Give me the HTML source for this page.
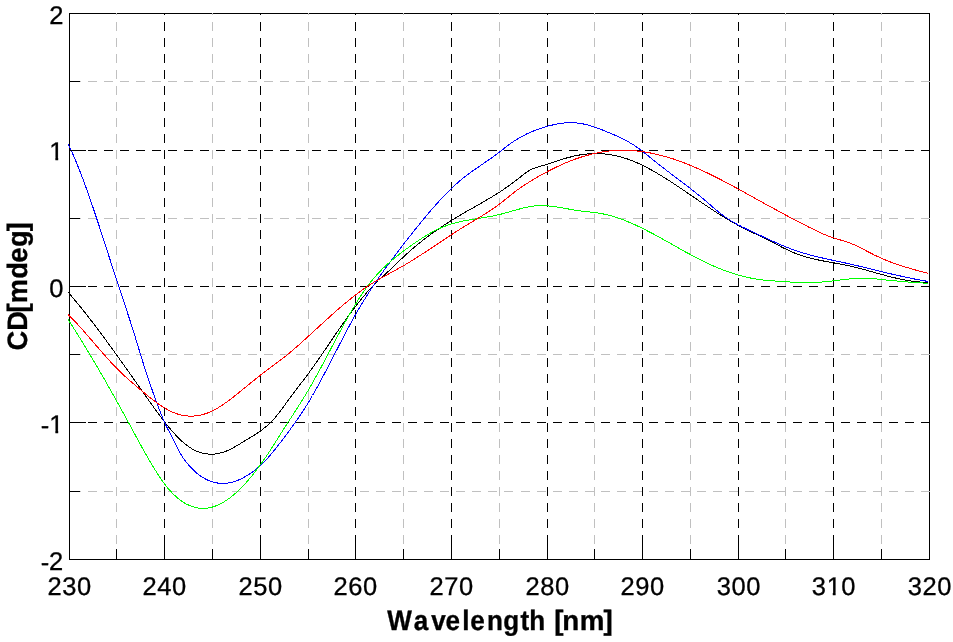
<!DOCTYPE html>
<html lang="en"><head><meta charset="utf-8"><title>CD spectrum</title>
<style>
html,body{margin:0;padding:0;background:#fff;}
body{width:953px;height:642px;overflow:hidden;}
svg{display:block;}
text{font-family:"Liberation Sans",Arial,sans-serif;fill:#000;}
.lb{font-weight:bold;stroke:#000;stroke-width:0.35px;stroke-linejoin:miter;}
.tk{stroke:#000;stroke-width:0.3px;}
text{text-rendering:geometricPrecision;}
</style></head><body>
<svg width="953" height="642" viewBox="0 0 953 642">
<rect x="0" y="0" width="953" height="642" fill="#fff"/>

<rect x="69.5" y="13.5" width="860.0" height="546.0" fill="none" stroke="#000" stroke-width="1" shape-rendering="crispEdges"/>
<g shape-rendering="crispEdges" stroke-width="1" fill="none">
<line x1="116.5" y1="5.665" x2="116.5" y2="559.5" stroke="#c0c0c0" stroke-dasharray="9 7.035" clip-path="url(#box)"/>
<line x1="212.5" y1="5.665" x2="212.5" y2="559.5" stroke="#c0c0c0" stroke-dasharray="9 7.035" clip-path="url(#box)"/>
<line x1="308.5" y1="5.665" x2="308.5" y2="559.5" stroke="#c0c0c0" stroke-dasharray="9 7.035" clip-path="url(#box)"/>
<line x1="403.5" y1="5.665" x2="403.5" y2="559.5" stroke="#c0c0c0" stroke-dasharray="9 7.035" clip-path="url(#box)"/>
<line x1="499.5" y1="5.665" x2="499.5" y2="559.5" stroke="#c0c0c0" stroke-dasharray="9 7.035" clip-path="url(#box)"/>
<line x1="594.5" y1="5.665" x2="594.5" y2="559.5" stroke="#c0c0c0" stroke-dasharray="9 7.035" clip-path="url(#box)"/>
<line x1="690.5" y1="5.665" x2="690.5" y2="559.5" stroke="#c0c0c0" stroke-dasharray="9 7.035" clip-path="url(#box)"/>
<line x1="785.5" y1="5.665" x2="785.5" y2="559.5" stroke="#c0c0c0" stroke-dasharray="9 7.035" clip-path="url(#box)"/>
<line x1="881.5" y1="5.665" x2="881.5" y2="559.5" stroke="#c0c0c0" stroke-dasharray="9 7.035" clip-path="url(#box)"/>
<line x1="55.640" y1="81.5" x2="929.5" y2="81.5" stroke="#c0c0c0" stroke-dasharray="9 7.030" clip-path="url(#box)"/>
<line x1="55.640" y1="218.5" x2="929.5" y2="218.5" stroke="#c0c0c0" stroke-dasharray="9 7.030" clip-path="url(#box)"/>
<line x1="55.640" y1="354.5" x2="929.5" y2="354.5" stroke="#c0c0c0" stroke-dasharray="9 7.030" clip-path="url(#box)"/>
<line x1="55.640" y1="491.5" x2="929.5" y2="491.5" stroke="#c0c0c0" stroke-dasharray="9 7.030" clip-path="url(#box)"/>
<line x1="164.5" y1="5.665" x2="164.5" y2="559.5" stroke="#000" stroke-dasharray="9 7.035" clip-path="url(#box)"/>
<line x1="260.5" y1="5.665" x2="260.5" y2="559.5" stroke="#000" stroke-dasharray="9 7.035" clip-path="url(#box)"/>
<line x1="355.5" y1="5.665" x2="355.5" y2="559.5" stroke="#000" stroke-dasharray="9 7.035" clip-path="url(#box)"/>
<line x1="451.5" y1="5.665" x2="451.5" y2="559.5" stroke="#000" stroke-dasharray="9 7.035" clip-path="url(#box)"/>
<line x1="547.5" y1="5.665" x2="547.5" y2="559.5" stroke="#000" stroke-dasharray="9 7.035" clip-path="url(#box)"/>
<line x1="642.5" y1="5.665" x2="642.5" y2="559.5" stroke="#000" stroke-dasharray="9 7.035" clip-path="url(#box)"/>
<line x1="738.5" y1="5.665" x2="738.5" y2="559.5" stroke="#000" stroke-dasharray="9 7.035" clip-path="url(#box)"/>
<line x1="833.5" y1="5.665" x2="833.5" y2="559.5" stroke="#000" stroke-dasharray="9 7.035" clip-path="url(#box)"/>
<line x1="55.640" y1="150.5" x2="929.5" y2="150.5" stroke="#000" stroke-dasharray="9 7.030" clip-path="url(#box)"/>
<line x1="55.640" y1="286.5" x2="929.5" y2="286.5" stroke="#000" stroke-dasharray="9 7.030" clip-path="url(#box)"/>
<line x1="55.640" y1="422.5" x2="929.5" y2="422.5" stroke="#000" stroke-dasharray="9 7.030" clip-path="url(#box)"/>
</g>
<defs><clipPath id="box"><rect x="69" y="13" width="861" height="547"/></clipPath></defs>
<g fill="none" stroke-width="1" stroke-linejoin="round" shape-rendering="crispEdges">
<path d="M68.0,292.0 L69.5,293.8 L71.0,295.5 L72.5,297.3 L74.0,299.1 L75.5,300.9 L77.0,302.7 L78.5,304.5 L80.0,306.4 L81.5,308.2 L83.0,310.1 L84.5,312.0 L86.0,313.9 L87.5,315.8 L89.0,317.8 L90.5,319.7 L92.0,321.6 L93.5,323.6 L95.0,325.6 L96.5,327.5 L98.0,329.5 L99.5,331.5 L101.0,333.5 L102.5,335.6 L104.0,337.6 L105.5,339.6 L107.0,341.7 L108.5,343.7 L110.0,345.8 L111.5,347.9 L113.0,349.9 L114.5,352.0 L116.0,354.1 L117.5,356.2 L119.0,358.3 L120.5,360.4 L122.0,362.5 L123.5,364.6 L125.0,366.7 L126.5,368.8 L128.0,370.9 L129.5,373.0 L131.0,375.2 L132.5,377.3 L134.0,379.4 L135.5,381.5 L137.0,383.7 L138.5,385.8 L140.0,387.9 L141.5,390.1 L143.0,392.2 L144.5,394.3 L146.0,396.5 L147.5,398.6 L149.0,400.7 L150.5,402.8 L152.0,404.9 L153.5,407.0 L155.0,409.1 L156.5,411.2 L158.0,413.2 L159.5,415.2 L161.0,417.2 L162.5,419.2 L164.0,421.2 L165.5,423.1 L167.0,425.0 L168.5,426.8 L170.0,428.6 L171.5,430.4 L173.0,432.1 L174.5,433.7 L176.0,435.4 L177.5,436.9 L179.0,438.4 L180.5,439.9 L182.0,441.3 L183.5,442.6 L185.0,443.8 L186.5,445.0 L188.0,446.1 L189.5,447.2 L191.0,448.2 L192.5,449.1 L194.0,449.9 L195.5,450.6 L197.0,451.3 L198.5,451.9 L200.0,452.4 L201.5,452.9 L203.0,453.3 L204.5,453.6 L206.0,453.8 L207.5,454.0 L209.0,454.1 L210.5,454.2 L212.0,454.2 L213.5,454.1 L215.0,454.0 L216.5,453.8 L218.0,453.5 L219.5,453.2 L221.0,452.8 L222.5,452.4 L224.0,451.9 L225.5,451.4 L227.0,450.8 L228.5,450.1 L230.0,449.4 L231.5,448.7 L233.0,447.9 L234.5,447.0 L236.0,446.2 L237.5,445.3 L239.0,444.4 L240.5,443.5 L242.0,442.5 L243.5,441.6 L245.0,440.7 L246.5,439.8 L248.0,438.9 L249.5,438.0 L251.0,437.1 L252.5,436.2 L254.0,435.3 L255.5,434.3 L257.0,433.3 L258.5,432.3 L260.0,431.3 L261.5,430.2 L263.0,429.0 L264.5,427.8 L266.0,426.6 L267.5,425.3 L269.0,423.9 L270.5,422.5 L272.0,421.0 L273.5,419.4 L275.0,417.7 L276.5,415.9 L278.0,414.1 L279.5,412.2 L281.0,410.2 L282.5,408.2 L284.0,406.1 L285.5,404.0 L287.0,401.9 L288.5,399.8 L290.0,397.8 L291.5,395.8 L293.0,393.8 L294.5,391.8 L296.0,389.9 L297.5,387.9 L299.0,385.9 L300.5,384.0 L302.0,382.0 L303.5,380.1 L305.0,378.1 L306.5,376.1 L308.0,374.1 L309.5,372.0 L311.0,370.0 L312.5,367.9 L314.0,365.8 L315.5,363.6 L317.0,361.5 L318.5,359.3 L320.0,357.2 L321.5,355.0 L323.0,352.8 L324.5,350.6 L326.0,348.4 L327.5,346.2 L329.0,343.9 L330.5,341.7 L332.0,339.5 L333.5,337.3 L335.0,335.1 L336.5,332.9 L338.0,330.8 L339.5,328.6 L341.0,326.4 L342.5,324.3 L344.0,322.1 L345.5,320.0 L347.0,317.9 L348.5,315.8 L350.0,313.8 L351.5,311.8 L353.0,309.7 L354.5,307.8 L356.0,305.8 L357.5,303.9 L359.0,302.0 L360.5,300.1 L362.0,298.2 L363.5,296.4 L365.0,294.7 L366.5,292.9 L368.0,291.2 L369.5,289.6 L371.0,287.9 L372.5,286.4 L374.0,284.8 L375.5,283.3 L377.0,281.9 L378.5,280.5 L380.0,279.0 L381.5,277.7 L383.0,276.3 L384.5,274.9 L386.0,273.5 L387.5,272.2 L389.0,270.8 L390.5,269.4 L392.0,268.0 L393.5,266.6 L395.0,265.1 L396.5,263.7 L398.0,262.2 L399.5,260.8 L401.0,259.3 L402.5,257.9 L404.0,256.5 L405.5,255.1 L407.0,253.7 L408.5,252.3 L410.0,251.0 L411.5,249.7 L413.0,248.4 L414.5,247.1 L416.0,245.9 L417.5,244.6 L419.0,243.4 L420.5,242.2 L422.0,241.0 L423.5,239.8 L425.0,238.7 L426.5,237.5 L428.0,236.4 L429.5,235.3 L431.0,234.2 L432.5,233.1 L434.0,232.1 L435.5,231.0 L437.0,230.0 L438.5,228.9 L440.0,227.9 L441.5,226.9 L443.0,225.9 L444.5,224.9 L446.0,224.0 L447.5,223.0 L449.0,222.1 L450.5,221.1 L452.0,220.2 L453.5,219.2 L455.0,218.3 L456.5,217.4 L458.0,216.5 L459.5,215.6 L461.0,214.7 L462.5,213.9 L464.0,213.0 L465.5,212.1 L467.0,211.2 L468.5,210.4 L470.0,209.5 L471.5,208.7 L473.0,207.8 L474.5,207.0 L476.0,206.1 L477.5,205.3 L479.0,204.4 L480.5,203.5 L482.0,202.7 L483.5,201.8 L485.0,200.9 L486.5,200.1 L488.0,199.2 L489.5,198.3 L491.0,197.4 L492.5,196.5 L494.0,195.6 L495.5,194.6 L497.0,193.7 L498.5,192.7 L500.0,191.8 L501.5,190.8 L503.0,189.8 L504.5,188.8 L506.0,187.7 L507.5,186.7 L509.0,185.6 L510.5,184.6 L512.0,183.5 L513.5,182.3 L515.0,181.2 L516.5,180.0 L518.0,178.8 L519.5,177.7 L521.0,176.5 L522.5,175.3 L524.0,174.2 L525.5,173.1 L527.0,172.1 L528.5,171.1 L530.0,170.2 L531.5,169.4 L533.0,168.7 L534.5,168.1 L536.0,167.6 L537.5,167.1 L539.0,166.7 L540.5,166.2 L542.0,165.8 L543.5,165.4 L545.0,165.0 L546.5,164.6 L548.0,164.1 L549.5,163.7 L551.0,163.1 L552.5,162.6 L554.0,162.1 L555.5,161.5 L557.0,161.0 L558.5,160.5 L560.0,160.0 L561.5,159.5 L563.0,159.1 L564.5,158.6 L566.0,158.2 L567.5,157.7 L569.0,157.3 L570.5,157.0 L572.0,156.6 L573.5,156.2 L575.0,155.9 L576.5,155.6 L578.0,155.3 L579.5,155.0 L581.0,154.8 L582.5,154.5 L584.0,154.3 L585.5,154.2 L587.0,154.0 L588.5,153.9 L590.0,153.8 L591.5,153.7 L593.0,153.6 L594.5,153.6 L596.0,153.6 L597.5,153.6 L599.0,153.6 L600.5,153.7 L602.0,153.8 L603.5,153.9 L605.0,154.0 L606.5,154.2 L608.0,154.4 L609.5,154.6 L611.0,154.8 L612.5,155.1 L614.0,155.4 L615.5,155.7 L617.0,156.0 L618.5,156.4 L620.0,156.8 L621.5,157.2 L623.0,157.6 L624.5,158.1 L626.0,158.5 L627.5,159.0 L629.0,159.6 L630.5,160.1 L632.0,160.7 L633.5,161.3 L635.0,161.9 L636.5,162.6 L638.0,163.2 L639.5,163.9 L641.0,164.6 L642.5,165.3 L644.0,166.1 L645.5,166.8 L647.0,167.6 L648.5,168.4 L650.0,169.2 L651.5,170.0 L653.0,170.9 L654.5,171.7 L656.0,172.6 L657.5,173.5 L659.0,174.4 L660.5,175.3 L662.0,176.2 L663.5,177.1 L665.0,178.1 L666.5,179.0 L668.0,180.0 L669.5,180.9 L671.0,181.9 L672.5,182.9 L674.0,183.9 L675.5,184.9 L677.0,185.8 L678.5,186.9 L680.0,187.9 L681.5,188.9 L683.0,189.9 L684.5,190.9 L686.0,191.9 L687.5,193.0 L689.0,194.0 L690.5,195.0 L692.0,196.0 L693.5,197.1 L695.0,198.1 L696.5,199.1 L698.0,200.1 L699.5,201.2 L701.0,202.2 L702.5,203.2 L704.0,204.2 L705.5,205.2 L707.0,206.2 L708.5,207.3 L710.0,208.2 L711.5,209.2 L713.0,210.2 L714.5,211.2 L716.0,212.2 L717.5,213.1 L719.0,214.1 L720.5,215.0 L722.0,216.0 L723.5,216.9 L725.0,217.8 L726.5,218.7 L728.0,219.6 L729.5,220.5 L731.0,221.4 L732.5,222.2 L734.0,223.1 L735.5,223.9 L737.0,224.7 L738.5,225.5 L740.0,226.3 L741.5,227.1 L743.0,227.9 L744.5,228.6 L746.0,229.4 L747.5,230.1 L749.0,230.8 L750.5,231.5 L752.0,232.2 L753.5,233.0 L755.0,233.7 L756.5,234.4 L758.0,235.1 L759.5,235.8 L761.0,236.5 L762.5,237.3 L764.0,238.0 L765.5,238.7 L767.0,239.5 L768.5,240.2 L770.0,241.0 L771.5,241.8 L773.0,242.6 L774.5,243.3 L776.0,244.1 L777.5,244.9 L779.0,245.7 L780.5,246.4 L782.0,247.2 L783.5,248.0 L785.0,248.7 L786.5,249.4 L788.0,250.1 L789.5,250.8 L791.0,251.5 L792.5,252.2 L794.0,252.8 L795.5,253.4 L797.0,254.0 L798.5,254.5 L800.0,255.1 L801.5,255.6 L803.0,256.1 L804.5,256.5 L806.0,257.0 L807.5,257.4 L809.0,257.8 L810.5,258.2 L812.0,258.6 L813.5,258.9 L815.0,259.3 L816.5,259.6 L818.0,259.9 L819.5,260.2 L821.0,260.5 L822.5,260.8 L824.0,261.1 L825.5,261.4 L827.0,261.7 L828.5,261.9 L830.0,262.2 L831.5,262.5 L833.0,262.7 L834.5,263.0 L836.0,263.3 L837.5,263.5 L839.0,263.8 L840.5,264.1 L842.0,264.4 L843.5,264.7 L845.0,265.0 L846.5,265.3 L848.0,265.6 L849.5,265.9 L851.0,266.2 L852.5,266.6 L854.0,267.0 L855.5,267.3 L857.0,267.7 L858.5,268.1 L860.0,268.5 L861.5,268.9 L863.0,269.3 L864.5,269.7 L866.0,270.1 L867.5,270.6 L869.0,271.0 L870.5,271.4 L872.0,271.8 L873.5,272.2 L875.0,272.7 L876.5,273.1 L878.0,273.5 L879.5,273.9 L881.0,274.3 L882.5,274.7 L884.0,275.1 L885.5,275.5 L887.0,275.9 L888.5,276.3 L890.0,276.7 L891.5,277.1 L893.0,277.4 L894.5,277.8 L896.0,278.1 L897.5,278.5 L899.0,278.8 L900.5,279.1 L902.0,279.4 L903.5,279.7 L905.0,280.0 L906.5,280.3 L908.0,280.5 L909.5,280.8 L911.0,281.0 L912.5,281.2 L914.0,281.4 L915.5,281.6 L917.0,281.7 L918.5,281.9 L920.0,282.0 L921.5,282.1 L923.0,282.2 L924.5,282.3 L926.0,282.3 L927.5,282.3 L928.0,282.3" stroke="#000000"/>
<path d="M68.0,143.8 L69.5,146.9 L71.0,150.1 L72.5,153.4 L74.0,156.8 L75.5,160.3 L77.0,163.9 L78.5,167.6 L80.0,171.4 L81.5,175.3 L83.0,179.3 L84.5,183.3 L86.0,187.4 L87.5,191.6 L89.0,195.9 L90.5,200.2 L92.0,204.6 L93.5,209.0 L95.0,213.4 L96.5,217.9 L98.0,222.5 L99.5,227.0 L101.0,231.6 L102.5,236.3 L104.0,240.9 L105.5,245.5 L107.0,250.2 L108.5,254.9 L110.0,259.5 L111.5,264.2 L113.0,268.8 L114.5,273.5 L116.0,278.1 L117.5,282.7 L119.0,287.2 L120.5,291.7 L122.0,296.3 L123.5,300.8 L125.0,305.3 L126.5,309.8 L128.0,314.4 L129.5,318.9 L131.0,323.6 L132.5,328.3 L134.0,333.0 L135.5,337.9 L137.0,342.8 L138.5,347.8 L140.0,352.8 L141.5,357.7 L143.0,362.5 L144.5,367.2 L146.0,371.8 L147.5,376.4 L149.0,380.9 L150.5,385.2 L152.0,389.5 L153.5,393.8 L155.0,397.9 L156.5,402.0 L158.0,406.0 L159.5,409.9 L161.0,413.8 L162.5,417.5 L164.0,421.1 L165.5,424.4 L167.0,427.5 L168.5,430.4 L170.0,433.3 L171.5,436.2 L173.0,439.2 L174.5,442.2 L176.0,445.2 L177.5,448.1 L179.0,451.0 L180.5,453.6 L182.0,456.1 L183.5,458.4 L185.0,460.5 L186.5,462.5 L188.0,464.3 L189.5,466.1 L191.0,467.7 L192.5,469.2 L194.0,470.7 L195.5,472.0 L197.0,473.3 L198.5,474.5 L200.0,475.6 L201.5,476.6 L203.0,477.6 L204.5,478.5 L206.0,479.3 L207.5,480.0 L209.0,480.6 L210.5,481.2 L212.0,481.7 L213.5,482.2 L215.0,482.5 L216.5,482.8 L218.0,483.1 L219.5,483.2 L221.0,483.3 L222.5,483.4 L224.0,483.3 L225.5,483.2 L227.0,483.1 L228.5,482.9 L230.0,482.6 L231.5,482.3 L233.0,481.9 L234.5,481.4 L236.0,480.9 L237.5,480.4 L239.0,479.8 L240.5,479.1 L242.0,478.4 L243.5,477.6 L245.0,476.8 L246.5,475.9 L248.0,475.0 L249.5,474.1 L251.0,473.0 L252.5,472.0 L254.0,470.8 L255.5,469.7 L257.0,468.4 L258.5,467.2 L260.0,465.8 L261.5,464.4 L263.0,463.0 L264.5,461.5 L266.0,459.9 L267.5,458.3 L269.0,456.6 L270.5,454.9 L272.0,453.1 L273.5,451.3 L275.0,449.5 L276.5,447.6 L278.0,445.6 L279.5,443.7 L281.0,441.7 L282.5,439.7 L284.0,437.7 L285.5,435.7 L287.0,433.7 L288.5,431.7 L290.0,429.7 L291.5,427.6 L293.0,425.5 L294.5,423.4 L296.0,421.3 L297.5,419.2 L299.0,417.0 L300.5,414.8 L302.0,412.5 L303.5,410.2 L305.0,407.9 L306.5,405.5 L308.0,403.1 L309.5,400.6 L311.0,398.0 L312.5,395.5 L314.0,392.8 L315.5,390.2 L317.0,387.5 L318.5,384.8 L320.0,382.0 L321.5,379.2 L323.0,376.4 L324.5,373.6 L326.0,370.7 L327.5,367.8 L329.0,364.9 L330.5,362.0 L332.0,359.1 L333.5,356.2 L335.0,353.3 L336.5,350.4 L338.0,347.5 L339.5,344.6 L341.0,341.7 L342.5,338.8 L344.0,335.9 L345.5,333.1 L347.0,330.2 L348.5,327.4 L350.0,324.6 L351.5,321.9 L353.0,319.2 L354.5,316.5 L356.0,313.8 L357.5,311.2 L359.0,308.6 L360.5,306.1 L362.0,303.6 L363.5,301.1 L365.0,298.7 L366.5,296.3 L368.0,293.9 L369.5,291.5 L371.0,289.2 L372.5,286.9 L374.0,284.7 L375.5,282.5 L377.0,280.3 L378.5,278.1 L380.0,275.9 L381.5,273.8 L383.0,271.7 L384.5,269.6 L386.0,267.5 L387.5,265.4 L389.0,263.4 L390.5,261.4 L392.0,259.3 L393.5,257.4 L395.0,255.4 L396.5,253.4 L398.0,251.4 L399.5,249.5 L401.0,247.5 L402.5,245.6 L404.0,243.6 L405.5,241.7 L407.0,239.8 L408.5,237.9 L410.0,236.0 L411.5,234.1 L413.0,232.2 L414.5,230.3 L416.0,228.4 L417.5,226.5 L419.0,224.7 L420.5,222.8 L422.0,221.0 L423.5,219.2 L425.0,217.4 L426.5,215.6 L428.0,213.8 L429.5,212.1 L431.0,210.3 L432.5,208.6 L434.0,206.9 L435.5,205.2 L437.0,203.5 L438.5,201.9 L440.0,200.2 L441.5,198.6 L443.0,197.0 L444.5,195.4 L446.0,193.9 L447.5,192.4 L449.0,190.9 L450.5,189.4 L452.0,188.0 L453.5,186.5 L455.0,185.1 L456.5,183.8 L458.0,182.4 L459.5,181.1 L461.0,179.9 L462.5,178.6 L464.0,177.4 L465.5,176.2 L467.0,175.1 L468.5,174.0 L470.0,172.9 L471.5,171.8 L473.0,170.7 L474.5,169.7 L476.0,168.6 L477.5,167.6 L479.0,166.6 L480.5,165.5 L482.0,164.5 L483.5,163.5 L485.0,162.4 L486.5,161.4 L488.0,160.4 L489.5,159.3 L491.0,158.3 L492.5,157.2 L494.0,156.1 L495.5,155.0 L497.0,153.9 L498.5,152.8 L500.0,151.6 L501.5,150.5 L503.0,149.3 L504.5,148.1 L506.0,146.9 L507.5,145.8 L509.0,144.7 L510.5,143.6 L512.0,142.5 L513.5,141.5 L515.0,140.5 L516.5,139.6 L518.0,138.7 L519.5,137.8 L521.0,136.9 L522.5,136.1 L524.0,135.3 L525.5,134.6 L527.0,133.8 L528.5,133.1 L530.0,132.4 L531.5,131.8 L533.0,131.2 L534.5,130.6 L536.0,130.0 L537.5,129.4 L539.0,128.9 L540.5,128.4 L542.0,127.9 L543.5,127.4 L545.0,126.9 L546.5,126.5 L548.0,126.1 L549.5,125.7 L551.0,125.3 L552.5,125.0 L554.0,124.6 L555.5,124.3 L557.0,124.0 L558.5,123.8 L560.0,123.5 L561.5,123.3 L563.0,123.2 L564.5,123.0 L566.0,122.9 L567.5,122.8 L569.0,122.7 L570.5,122.7 L572.0,122.7 L573.5,122.8 L575.0,122.8 L576.5,123.0 L578.0,123.1 L579.5,123.3 L581.0,123.5 L582.5,123.8 L584.0,124.1 L585.5,124.5 L587.0,124.8 L588.5,125.2 L590.0,125.6 L591.5,126.1 L593.0,126.6 L594.5,127.1 L596.0,127.6 L597.5,128.1 L599.0,128.7 L600.5,129.2 L602.0,129.8 L603.5,130.4 L605.0,131.0 L606.5,131.6 L608.0,132.3 L609.5,132.9 L611.0,133.5 L612.5,134.2 L614.0,134.8 L615.5,135.5 L617.0,136.1 L618.5,136.8 L620.0,137.5 L621.5,138.2 L623.0,139.0 L624.5,139.7 L626.0,140.5 L627.5,141.3 L629.0,142.2 L630.5,143.1 L632.0,144.0 L633.5,144.9 L635.0,145.9 L636.5,146.9 L638.0,148.0 L639.5,149.1 L641.0,150.2 L642.5,151.4 L644.0,152.5 L645.5,153.7 L647.0,154.9 L648.5,156.1 L650.0,157.3 L651.5,158.6 L653.0,159.8 L654.5,161.0 L656.0,162.2 L657.5,163.4 L659.0,164.6 L660.5,165.7 L662.0,166.9 L663.5,168.1 L665.0,169.2 L666.5,170.4 L668.0,171.5 L669.5,172.6 L671.0,173.8 L672.5,174.9 L674.0,176.0 L675.5,177.2 L677.0,178.3 L678.5,179.4 L680.0,180.6 L681.5,181.7 L683.0,182.8 L684.5,184.0 L686.0,185.1 L687.5,186.3 L689.0,187.4 L690.5,188.6 L692.0,189.8 L693.5,191.0 L695.0,192.1 L696.5,193.4 L698.0,194.6 L699.5,195.8 L701.0,197.0 L702.5,198.3 L704.0,199.5 L705.5,200.8 L707.0,202.1 L708.5,203.4 L710.0,204.7 L711.5,206.0 L713.0,207.3 L714.5,208.5 L716.0,209.8 L717.5,211.0 L719.0,212.3 L720.5,213.5 L722.0,214.6 L723.5,215.8 L725.0,216.9 L726.5,217.9 L728.0,218.9 L729.5,219.9 L731.0,220.9 L732.5,221.8 L734.0,222.6 L735.5,223.5 L737.0,224.3 L738.5,225.1 L740.0,225.8 L741.5,226.6 L743.0,227.3 L744.5,228.0 L746.0,228.8 L747.5,229.5 L749.0,230.2 L750.5,230.9 L752.0,231.6 L753.5,232.3 L755.0,233.0 L756.5,233.7 L758.0,234.4 L759.5,235.1 L761.0,235.8 L762.5,236.5 L764.0,237.2 L765.5,237.9 L767.0,238.6 L768.5,239.3 L770.0,240.0 L771.5,240.7 L773.0,241.3 L774.5,242.0 L776.0,242.7 L777.5,243.3 L779.0,244.0 L780.5,244.6 L782.0,245.3 L783.5,245.9 L785.0,246.5 L786.5,247.1 L788.0,247.7 L789.5,248.3 L791.0,248.9 L792.5,249.4 L794.0,250.0 L795.5,250.5 L797.0,251.0 L798.5,251.5 L800.0,252.0 L801.5,252.5 L803.0,252.9 L804.5,253.4 L806.0,253.8 L807.5,254.2 L809.0,254.7 L810.5,255.1 L812.0,255.5 L813.5,255.8 L815.0,256.2 L816.5,256.6 L818.0,257.0 L819.5,257.3 L821.0,257.7 L822.5,258.0 L824.0,258.4 L825.5,258.7 L827.0,259.0 L828.5,259.4 L830.0,259.7 L831.5,260.0 L833.0,260.3 L834.5,260.7 L836.0,261.0 L837.5,261.3 L839.0,261.6 L840.5,261.9 L842.0,262.3 L843.5,262.6 L845.0,262.9 L846.5,263.2 L848.0,263.6 L849.5,263.9 L851.0,264.3 L852.5,264.6 L854.0,264.9 L855.5,265.3 L857.0,265.7 L858.5,266.0 L860.0,266.4 L861.5,266.7 L863.0,267.1 L864.5,267.5 L866.0,267.8 L867.5,268.2 L869.0,268.6 L870.5,268.9 L872.0,269.3 L873.5,269.7 L875.0,270.0 L876.5,270.4 L878.0,270.8 L879.5,271.1 L881.0,271.5 L882.5,271.9 L884.0,272.2 L885.5,272.6 L887.0,272.9 L888.5,273.3 L890.0,273.6 L891.5,274.0 L893.0,274.3 L894.5,274.7 L896.0,275.0 L897.5,275.4 L899.0,275.7 L900.5,276.0 L902.0,276.4 L903.5,276.7 L905.0,277.0 L906.5,277.3 L908.0,277.6 L909.5,277.9 L911.0,278.3 L912.5,278.6 L914.0,278.9 L915.5,279.2 L917.0,279.5 L918.5,279.7 L920.0,280.0 L921.5,280.3 L923.0,280.6 L924.5,280.8 L926.0,281.1 L927.5,281.4 L928.0,281.5" stroke="#0000ff"/>
<path d="M68.0,319.3 L69.5,321.6 L71.0,324.0 L72.5,326.3 L74.0,328.7 L75.5,331.1 L77.0,333.5 L78.5,335.9 L80.0,338.3 L81.5,340.7 L83.0,343.2 L84.5,345.6 L86.0,348.1 L87.5,350.6 L89.0,353.0 L90.5,355.6 L92.0,358.1 L93.5,360.6 L95.0,363.1 L96.5,365.7 L98.0,368.3 L99.5,370.8 L101.0,373.4 L102.5,376.0 L104.0,378.6 L105.5,381.2 L107.0,383.9 L108.5,386.5 L110.0,389.2 L111.5,391.8 L113.0,394.5 L114.5,397.2 L116.0,399.8 L117.5,402.5 L119.0,405.2 L120.5,408.0 L122.0,410.7 L123.5,413.4 L125.0,416.2 L126.5,418.9 L128.0,421.7 L129.5,424.4 L131.0,427.2 L132.5,430.0 L134.0,432.7 L135.5,435.5 L137.0,438.3 L138.5,441.0 L140.0,443.8 L141.5,446.5 L143.0,449.2 L144.5,451.9 L146.0,454.5 L147.5,457.1 L149.0,459.7 L150.5,462.3 L152.0,464.8 L153.5,467.3 L155.0,469.7 L156.5,472.1 L158.0,474.5 L159.5,476.7 L161.0,479.0 L162.5,481.1 L164.0,483.2 L165.5,485.2 L167.0,487.1 L168.5,488.9 L170.0,490.6 L171.5,492.2 L173.0,493.8 L174.5,495.2 L176.0,496.6 L177.5,497.9 L179.0,499.1 L180.5,500.3 L182.0,501.4 L183.5,502.3 L185.0,503.3 L186.5,504.1 L188.0,504.8 L189.5,505.5 L191.0,506.1 L192.5,506.7 L194.0,507.1 L195.5,507.5 L197.0,507.8 L198.5,508.1 L200.0,508.3 L201.5,508.4 L203.0,508.4 L204.5,508.4 L206.0,508.3 L207.5,508.1 L209.0,507.8 L210.5,507.5 L212.0,507.2 L213.5,506.7 L215.0,506.2 L216.5,505.6 L218.0,505.0 L219.5,504.3 L221.0,503.6 L222.5,502.7 L224.0,501.9 L225.5,500.9 L227.0,499.9 L228.5,498.9 L230.0,497.8 L231.5,496.6 L233.0,495.4 L234.5,494.1 L236.0,492.8 L237.5,491.4 L239.0,490.0 L240.5,488.5 L242.0,487.0 L243.5,485.4 L245.0,483.8 L246.5,482.2 L248.0,480.4 L249.5,478.7 L251.0,476.9 L252.5,475.1 L254.0,473.2 L255.5,471.3 L257.0,469.3 L258.5,467.3 L260.0,465.3 L261.5,463.2 L263.0,461.1 L264.5,458.9 L266.0,456.7 L267.5,454.5 L269.0,452.2 L270.5,449.9 L272.0,447.6 L273.5,445.2 L275.0,442.9 L276.5,440.5 L278.0,438.1 L279.5,435.7 L281.0,433.3 L282.5,430.9 L284.0,428.6 L285.5,426.2 L287.0,423.9 L288.5,421.6 L290.0,419.3 L291.5,417.0 L293.0,414.7 L294.5,412.4 L296.0,410.0 L297.5,407.7 L299.0,405.4 L300.5,403.0 L302.0,400.6 L303.5,398.2 L305.0,395.7 L306.5,393.2 L308.0,390.7 L309.5,388.1 L311.0,385.5 L312.5,382.9 L314.0,380.2 L315.5,377.5 L317.0,374.8 L318.5,372.0 L320.0,369.3 L321.5,366.5 L323.0,363.7 L324.5,360.8 L326.0,358.0 L327.5,355.2 L329.0,352.3 L330.5,349.5 L332.0,346.6 L333.5,343.8 L335.0,340.9 L336.5,338.1 L338.0,335.3 L339.5,332.5 L341.0,329.7 L342.5,327.0 L344.0,324.2 L345.5,321.5 L347.0,318.8 L348.5,316.2 L350.0,313.5 L351.5,311.0 L353.0,308.4 L354.5,305.9 L356.0,303.4 L357.5,301.0 L359.0,298.6 L360.5,296.3 L362.0,294.0 L363.5,291.8 L365.0,289.7 L366.5,287.6 L368.0,285.5 L369.5,283.6 L371.0,281.7 L372.5,279.8 L374.0,278.0 L375.5,276.3 L377.0,274.6 L378.5,273.0 L380.0,271.4 L381.5,269.8 L383.0,268.3 L384.5,266.9 L386.0,265.5 L387.5,264.1 L389.0,262.8 L390.5,261.4 L392.0,260.2 L393.5,258.9 L395.0,257.7 L396.5,256.5 L398.0,255.3 L399.5,254.1 L401.0,253.0 L402.5,251.8 L404.0,250.7 L405.5,249.6 L407.0,248.5 L408.5,247.4 L410.0,246.4 L411.5,245.3 L413.0,244.2 L414.5,243.2 L416.0,242.2 L417.5,241.2 L419.0,240.2 L420.5,239.2 L422.0,238.2 L423.5,237.2 L425.0,236.3 L426.5,235.4 L428.0,234.5 L429.5,233.6 L431.0,232.8 L432.5,231.9 L434.0,231.1 L435.5,230.4 L437.0,229.6 L438.5,228.9 L440.0,228.2 L441.5,227.6 L443.0,226.9 L444.5,226.4 L446.0,225.8 L447.5,225.3 L449.0,224.8 L450.5,224.3 L452.0,223.8 L453.5,223.4 L455.0,223.0 L456.5,222.6 L458.0,222.2 L459.5,221.9 L461.0,221.6 L462.5,221.2 L464.0,220.9 L465.5,220.6 L467.0,220.4 L468.5,220.1 L470.0,219.8 L471.5,219.6 L473.0,219.3 L474.5,219.1 L476.0,218.8 L477.5,218.6 L479.0,218.4 L480.5,218.1 L482.0,217.9 L483.5,217.6 L485.0,217.4 L486.5,217.1 L488.0,216.9 L489.5,216.6 L491.0,216.3 L492.5,216.1 L494.0,215.8 L495.5,215.4 L497.0,215.1 L498.5,214.8 L500.0,214.4 L501.5,214.0 L503.0,213.7 L504.5,213.3 L506.0,212.8 L507.5,212.4 L509.0,212.0 L510.5,211.6 L512.0,211.1 L513.5,210.7 L515.0,210.3 L516.5,209.8 L518.0,209.4 L519.5,209.0 L521.0,208.6 L522.5,208.2 L524.0,207.9 L525.5,207.5 L527.0,207.2 L528.5,206.9 L530.0,206.6 L531.5,206.4 L533.0,206.2 L534.5,206.0 L536.0,205.9 L537.5,205.8 L539.0,205.7 L540.5,205.6 L542.0,205.6 L543.5,205.7 L545.0,205.7 L546.5,205.8 L548.0,205.9 L549.5,206.1 L551.0,206.2 L552.5,206.4 L554.0,206.6 L555.5,206.8 L557.0,207.0 L558.5,207.2 L560.0,207.5 L561.5,207.7 L563.0,208.0 L564.5,208.3 L566.0,208.5 L567.5,208.8 L569.0,209.1 L570.5,209.3 L572.0,209.6 L573.5,209.9 L575.0,210.1 L576.5,210.3 L578.0,210.6 L579.5,210.8 L581.0,211.0 L582.5,211.1 L584.0,211.3 L585.5,211.5 L587.0,211.7 L588.5,211.8 L590.0,212.0 L591.5,212.2 L593.0,212.3 L594.5,212.5 L596.0,212.7 L597.5,212.9 L599.0,213.2 L600.5,213.4 L602.0,213.7 L603.5,214.0 L605.0,214.3 L606.5,214.6 L608.0,215.0 L609.5,215.4 L611.0,215.8 L612.5,216.2 L614.0,216.7 L615.5,217.1 L617.0,217.6 L618.5,218.1 L620.0,218.6 L621.5,219.2 L623.0,219.8 L624.5,220.3 L626.0,220.9 L627.5,221.5 L629.0,222.2 L630.5,222.8 L632.0,223.5 L633.5,224.1 L635.0,224.8 L636.5,225.5 L638.0,226.2 L639.5,226.9 L641.0,227.7 L642.5,228.4 L644.0,229.1 L645.5,229.9 L647.0,230.7 L648.5,231.5 L650.0,232.2 L651.5,233.0 L653.0,233.8 L654.5,234.6 L656.0,235.5 L657.5,236.3 L659.0,237.1 L660.5,237.9 L662.0,238.7 L663.5,239.6 L665.0,240.4 L666.5,241.3 L668.0,242.1 L669.5,242.9 L671.0,243.8 L672.5,244.6 L674.0,245.5 L675.5,246.3 L677.0,247.2 L678.5,248.0 L680.0,248.9 L681.5,249.7 L683.0,250.5 L684.5,251.4 L686.0,252.2 L687.5,253.0 L689.0,253.8 L690.5,254.6 L692.0,255.4 L693.5,256.2 L695.0,257.0 L696.5,257.8 L698.0,258.6 L699.5,259.3 L701.0,260.1 L702.5,260.8 L704.0,261.6 L705.5,262.3 L707.0,263.0 L708.5,263.7 L710.0,264.4 L711.5,265.1 L713.0,265.8 L714.5,266.4 L716.0,267.1 L717.5,267.7 L719.0,268.3 L720.5,268.9 L722.0,269.5 L723.5,270.1 L725.0,270.6 L726.5,271.2 L728.0,271.7 L729.5,272.2 L731.0,272.8 L732.5,273.2 L734.0,273.7 L735.5,274.2 L737.0,274.6 L738.5,275.1 L740.0,275.5 L741.5,275.9 L743.0,276.3 L744.5,276.7 L746.0,277.0 L747.5,277.4 L749.0,277.7 L750.5,278.0 L752.0,278.3 L753.5,278.6 L755.0,278.9 L756.5,279.1 L758.0,279.4 L759.5,279.6 L761.0,279.8 L762.5,280.0 L764.0,280.2 L765.5,280.3 L767.0,280.4 L768.5,280.6 L770.0,280.7 L771.5,280.8 L773.0,280.9 L774.5,281.0 L776.0,281.0 L777.5,281.1 L779.0,281.2 L780.5,281.3 L782.0,281.4 L783.5,281.5 L785.0,281.7 L786.5,281.8 L788.0,281.9 L789.5,282.0 L791.0,282.2 L792.5,282.3 L794.0,282.4 L795.5,282.5 L797.0,282.6 L798.5,282.7 L800.0,282.7 L801.5,282.8 L803.0,282.9 L804.5,282.9 L806.0,282.9 L807.5,282.9 L809.0,282.9 L810.5,282.8 L812.0,282.8 L813.5,282.7 L815.0,282.6 L816.5,282.5 L818.0,282.4 L819.5,282.3 L821.0,282.2 L822.5,282.0 L824.0,281.9 L825.5,281.7 L827.0,281.6 L828.5,281.4 L830.0,281.2 L831.5,281.1 L833.0,280.9 L834.5,280.7 L836.0,280.5 L837.5,280.3 L839.0,280.2 L840.5,280.0 L842.0,279.8 L843.5,279.6 L845.0,279.5 L846.5,279.3 L848.0,279.2 L849.5,279.0 L851.0,278.9 L852.5,278.8 L854.0,278.7 L855.5,278.6 L857.0,278.5 L858.5,278.4 L860.0,278.4 L861.5,278.3 L863.0,278.3 L864.5,278.3 L866.0,278.4 L867.5,278.4 L869.0,278.5 L870.5,278.6 L872.0,278.7 L873.5,278.8 L875.0,278.9 L876.5,279.0 L878.0,279.2 L879.5,279.3 L881.0,279.5 L882.5,279.6 L884.0,279.8 L885.5,279.9 L887.0,280.1 L888.5,280.2 L890.0,280.3 L891.5,280.5 L893.0,280.6 L894.5,280.8 L896.0,280.9 L897.5,281.1 L899.0,281.2 L900.5,281.4 L902.0,281.5 L903.5,281.6 L905.0,281.7 L906.5,281.9 L908.0,282.0 L909.5,282.1 L911.0,282.2 L912.5,282.3 L914.0,282.4 L915.5,282.5 L917.0,282.6 L918.5,282.7 L920.0,282.8 L921.5,282.9 L923.0,283.0 L924.5,283.0 L926.0,283.1 L927.5,283.1 L928.0,283.1" stroke="#00ff00"/>
<path d="M68.0,314.6 L69.5,316.0 L71.0,317.5 L72.5,319.0 L74.0,320.5 L75.5,322.1 L77.0,323.7 L78.5,325.3 L80.0,326.9 L81.5,328.6 L83.0,330.3 L84.5,332.0 L86.0,333.7 L87.5,335.4 L89.0,337.1 L90.5,338.9 L92.0,340.6 L93.5,342.4 L95.0,344.1 L96.5,345.9 L98.0,347.6 L99.5,349.4 L101.0,351.1 L102.5,352.8 L104.0,354.5 L105.5,356.2 L107.0,357.9 L108.5,359.6 L110.0,361.2 L111.5,362.9 L113.0,364.5 L114.5,366.0 L116.0,367.6 L117.5,369.1 L119.0,370.6 L120.5,372.0 L122.0,373.5 L123.5,374.9 L125.0,376.3 L126.5,377.6 L128.0,379.0 L129.5,380.3 L131.0,381.6 L132.5,382.9 L134.0,384.2 L135.5,385.5 L137.0,386.8 L138.5,388.0 L140.0,389.3 L141.5,390.6 L143.0,391.8 L144.5,393.1 L146.0,394.3 L147.5,395.6 L149.0,396.8 L150.5,398.0 L152.0,399.1 L153.5,400.3 L155.0,401.4 L156.5,402.5 L158.0,403.6 L159.5,404.7 L161.0,405.7 L162.5,406.6 L164.0,407.6 L165.5,408.5 L167.0,409.3 L168.5,410.2 L170.0,410.9 L171.5,411.6 L173.0,412.3 L174.5,412.9 L176.0,413.5 L177.5,414.0 L179.0,414.4 L180.5,414.8 L182.0,415.2 L183.5,415.5 L185.0,415.7 L186.5,415.9 L188.0,416.0 L189.5,416.1 L191.0,416.1 L192.5,416.1 L194.0,416.0 L195.5,415.9 L197.0,415.7 L198.5,415.5 L200.0,415.2 L201.5,414.8 L203.0,414.4 L204.5,414.0 L206.0,413.5 L207.5,413.0 L209.0,412.4 L210.5,411.8 L212.0,411.1 L213.5,410.3 L215.0,409.5 L216.5,408.7 L218.0,407.8 L219.5,406.9 L221.0,405.9 L222.5,405.0 L224.0,403.9 L225.5,402.9 L227.0,401.8 L228.5,400.7 L230.0,399.6 L231.5,398.4 L233.0,397.3 L234.5,396.1 L236.0,394.9 L237.5,393.7 L239.0,392.5 L240.5,391.3 L242.0,390.0 L243.5,388.8 L245.0,387.6 L246.5,386.4 L248.0,385.1 L249.5,383.9 L251.0,382.7 L252.5,381.5 L254.0,380.3 L255.5,379.1 L257.0,377.9 L258.5,376.7 L260.0,375.5 L261.5,374.3 L263.0,373.2 L264.5,372.1 L266.0,370.9 L267.5,369.8 L269.0,368.7 L270.5,367.5 L272.0,366.4 L273.5,365.3 L275.0,364.2 L276.5,363.1 L278.0,361.9 L279.5,360.8 L281.0,359.7 L282.5,358.5 L284.0,357.3 L285.5,356.2 L287.0,355.0 L288.5,353.7 L290.0,352.5 L291.5,351.3 L293.0,350.0 L294.5,348.7 L296.0,347.4 L297.5,346.1 L299.0,344.8 L300.5,343.4 L302.0,342.1 L303.5,340.7 L305.0,339.4 L306.5,338.0 L308.0,336.6 L309.5,335.2 L311.0,333.9 L312.5,332.5 L314.0,331.1 L315.5,329.7 L317.0,328.4 L318.5,327.0 L320.0,325.6 L321.5,324.2 L323.0,322.9 L324.5,321.5 L326.0,320.1 L327.5,318.8 L329.0,317.4 L330.5,316.1 L332.0,314.7 L333.5,313.4 L335.0,312.0 L336.5,310.7 L338.0,309.4 L339.5,308.1 L341.0,306.8 L342.5,305.5 L344.0,304.3 L345.5,303.0 L347.0,301.8 L348.5,300.5 L350.0,299.3 L351.5,298.1 L353.0,296.9 L354.5,295.8 L356.0,294.6 L357.5,293.5 L359.0,292.3 L360.5,291.2 L362.0,290.2 L363.5,289.1 L365.0,288.1 L366.5,287.0 L368.0,286.0 L369.5,285.1 L371.0,284.1 L372.5,283.2 L374.0,282.2 L375.5,281.3 L377.0,280.4 L378.5,279.6 L380.0,278.7 L381.5,277.9 L383.0,277.0 L384.5,276.2 L386.0,275.4 L387.5,274.5 L389.0,273.7 L390.5,272.9 L392.0,272.1 L393.5,271.3 L395.0,270.4 L396.5,269.6 L398.0,268.8 L399.5,267.9 L401.0,267.1 L402.5,266.2 L404.0,265.4 L405.5,264.5 L407.0,263.6 L408.5,262.7 L410.0,261.8 L411.5,260.9 L413.0,260.0 L414.5,259.0 L416.0,258.1 L417.5,257.1 L419.0,256.2 L420.5,255.2 L422.0,254.2 L423.5,253.3 L425.0,252.3 L426.5,251.3 L428.0,250.3 L429.5,249.3 L431.0,248.3 L432.5,247.3 L434.0,246.3 L435.5,245.3 L437.0,244.3 L438.5,243.3 L440.0,242.3 L441.5,241.3 L443.0,240.3 L444.5,239.3 L446.0,238.3 L447.5,237.3 L449.0,236.3 L450.5,235.3 L452.0,234.3 L453.5,233.4 L455.0,232.4 L456.5,231.4 L458.0,230.5 L459.5,229.5 L461.0,228.6 L462.5,227.6 L464.0,226.7 L465.5,225.8 L467.0,224.9 L468.5,224.0 L470.0,223.1 L471.5,222.2 L473.0,221.3 L474.5,220.4 L476.0,219.5 L477.5,218.6 L479.0,217.6 L480.5,216.7 L482.0,215.8 L483.5,214.9 L485.0,213.9 L486.5,213.0 L488.0,212.0 L489.5,211.0 L491.0,210.0 L492.5,209.0 L494.0,208.0 L495.5,206.9 L497.0,205.8 L498.5,204.7 L500.0,203.6 L501.5,202.4 L503.0,201.3 L504.5,200.1 L506.0,198.9 L507.5,197.7 L509.0,196.5 L510.5,195.3 L512.0,194.1 L513.5,192.9 L515.0,191.7 L516.5,190.6 L518.0,189.5 L519.5,188.4 L521.0,187.4 L522.5,186.4 L524.0,185.4 L525.5,184.4 L527.0,183.4 L528.5,182.5 L530.0,181.5 L531.5,180.6 L533.0,179.7 L534.5,178.8 L536.0,177.9 L537.5,177.1 L539.0,176.2 L540.5,175.3 L542.0,174.5 L543.5,173.7 L545.0,172.9 L546.5,172.1 L548.0,171.3 L549.5,170.5 L551.0,169.7 L552.5,169.0 L554.0,168.2 L555.5,167.5 L557.0,166.8 L558.5,166.1 L560.0,165.4 L561.5,164.7 L563.0,164.0 L564.5,163.4 L566.0,162.7 L567.5,162.1 L569.0,161.5 L570.5,160.9 L572.0,160.3 L573.5,159.8 L575.0,159.2 L576.5,158.7 L578.0,158.2 L579.5,157.7 L581.0,157.2 L582.5,156.7 L584.0,156.2 L585.5,155.8 L587.0,155.4 L588.5,155.0 L590.0,154.6 L591.5,154.2 L593.0,153.8 L594.5,153.5 L596.0,153.2 L597.5,152.9 L599.0,152.6 L600.5,152.3 L602.0,152.0 L603.5,151.8 L605.0,151.6 L606.5,151.4 L608.0,151.2 L609.5,151.0 L611.0,150.8 L612.5,150.7 L614.0,150.6 L615.5,150.5 L617.0,150.4 L618.5,150.4 L620.0,150.3 L621.5,150.3 L623.0,150.3 L624.5,150.3 L626.0,150.3 L627.5,150.4 L629.0,150.4 L630.5,150.5 L632.0,150.6 L633.5,150.7 L635.0,150.8 L636.5,151.0 L638.0,151.1 L639.5,151.3 L641.0,151.5 L642.5,151.7 L644.0,151.9 L645.5,152.1 L647.0,152.4 L648.5,152.7 L650.0,152.9 L651.5,153.2 L653.0,153.5 L654.5,153.9 L656.0,154.2 L657.5,154.5 L659.0,154.9 L660.5,155.3 L662.0,155.7 L663.5,156.1 L665.0,156.5 L666.5,156.9 L668.0,157.3 L669.5,157.8 L671.0,158.3 L672.5,158.7 L674.0,159.2 L675.5,159.7 L677.0,160.3 L678.5,160.8 L680.0,161.3 L681.5,161.9 L683.0,162.4 L684.5,163.0 L686.0,163.6 L687.5,164.2 L689.0,164.8 L690.5,165.4 L692.0,166.0 L693.5,166.7 L695.0,167.3 L696.5,168.0 L698.0,168.6 L699.5,169.3 L701.0,170.0 L702.5,170.7 L704.0,171.4 L705.5,172.1 L707.0,172.8 L708.5,173.5 L710.0,174.2 L711.5,175.0 L713.0,175.7 L714.5,176.5 L716.0,177.2 L717.5,178.0 L719.0,178.8 L720.5,179.5 L722.0,180.3 L723.5,181.1 L725.0,181.9 L726.5,182.7 L728.0,183.5 L729.5,184.3 L731.0,185.1 L732.5,185.9 L734.0,186.7 L735.5,187.5 L737.0,188.3 L738.5,189.1 L740.0,190.0 L741.5,190.8 L743.0,191.6 L744.5,192.4 L746.0,193.3 L747.5,194.1 L749.0,194.9 L750.5,195.8 L752.0,196.6 L753.5,197.4 L755.0,198.2 L756.5,199.1 L758.0,199.9 L759.5,200.7 L761.0,201.6 L762.5,202.4 L764.0,203.2 L765.5,204.1 L767.0,204.9 L768.5,205.7 L770.0,206.5 L771.5,207.3 L773.0,208.2 L774.5,209.0 L776.0,209.8 L777.5,210.6 L779.0,211.4 L780.5,212.3 L782.0,213.1 L783.5,213.9 L785.0,214.7 L786.5,215.5 L788.0,216.3 L789.5,217.1 L791.0,217.9 L792.5,218.7 L794.0,219.5 L795.5,220.2 L797.0,221.0 L798.5,221.8 L800.0,222.6 L801.5,223.4 L803.0,224.1 L804.5,224.9 L806.0,225.6 L807.5,226.4 L809.0,227.2 L810.5,227.9 L812.0,228.7 L813.5,229.4 L815.0,230.1 L816.5,230.8 L818.0,231.6 L819.5,232.3 L821.0,233.0 L822.5,233.6 L824.0,234.3 L825.5,234.9 L827.0,235.5 L828.5,236.1 L830.0,236.7 L831.5,237.2 L833.0,237.8 L834.5,238.3 L836.0,238.7 L837.5,239.2 L839.0,239.6 L840.5,240.0 L842.0,240.5 L843.5,240.9 L845.0,241.3 L846.5,241.8 L848.0,242.3 L849.5,242.9 L851.0,243.4 L852.5,244.1 L854.0,244.7 L855.5,245.4 L857.0,246.1 L858.5,246.8 L860.0,247.6 L861.5,248.3 L863.0,249.1 L864.5,249.9 L866.0,250.7 L867.5,251.5 L869.0,252.3 L870.5,253.0 L872.0,253.8 L873.5,254.6 L875.0,255.3 L876.5,256.0 L878.0,256.7 L879.5,257.4 L881.0,258.1 L882.5,258.8 L884.0,259.4 L885.5,260.0 L887.0,260.6 L888.5,261.2 L890.0,261.8 L891.5,262.4 L893.0,262.9 L894.5,263.4 L896.0,264.0 L897.5,264.5 L899.0,265.0 L900.5,265.5 L902.0,266.0 L903.5,266.4 L905.0,266.9 L906.5,267.4 L908.0,267.8 L909.5,268.3 L911.0,268.7 L912.5,269.1 L914.0,269.6 L915.5,270.0 L917.0,270.4 L918.5,270.8 L920.0,271.2 L921.5,271.6 L923.0,272.0 L924.5,272.4 L926.0,272.8 L927.5,273.2 L928.0,273.3" stroke="#ff0000"/>
</g>
<g shape-rendering="crispEdges" stroke="#000" stroke-width="1" fill="none">
<line x1="116.5" y1="549.0" x2="116.5" y2="559.5"/>
<line x1="164.5" y1="543.0" x2="164.5" y2="559.5"/>
<line x1="212.5" y1="549.0" x2="212.5" y2="559.5"/>
<line x1="260.5" y1="543.0" x2="260.5" y2="559.5"/>
<line x1="308.5" y1="549.0" x2="308.5" y2="559.5"/>
<line x1="355.5" y1="543.0" x2="355.5" y2="559.5"/>
<line x1="403.5" y1="549.0" x2="403.5" y2="559.5"/>
<line x1="451.5" y1="543.0" x2="451.5" y2="559.5"/>
<line x1="499.5" y1="549.0" x2="499.5" y2="559.5"/>
<line x1="547.5" y1="543.0" x2="547.5" y2="559.5"/>
<line x1="594.5" y1="549.0" x2="594.5" y2="559.5"/>
<line x1="642.5" y1="543.0" x2="642.5" y2="559.5"/>
<line x1="690.5" y1="549.0" x2="690.5" y2="559.5"/>
<line x1="738.5" y1="543.0" x2="738.5" y2="559.5"/>
<line x1="785.5" y1="549.0" x2="785.5" y2="559.5"/>
<line x1="833.5" y1="543.0" x2="833.5" y2="559.5"/>
<line x1="881.5" y1="549.0" x2="881.5" y2="559.5"/>
<line x1="69.5" y1="81.5" x2="80.0" y2="81.5"/>
<line x1="69.5" y1="150.5" x2="86.0" y2="150.5"/>
<line x1="69.5" y1="218.5" x2="80.0" y2="218.5"/>
<line x1="69.5" y1="286.5" x2="86.0" y2="286.5"/>
<line x1="69.5" y1="354.5" x2="80.0" y2="354.5"/>
<line x1="69.5" y1="422.5" x2="86.0" y2="422.5"/>
<line x1="69.5" y1="491.5" x2="80.0" y2="491.5"/>
</g>
<text class="tk" font-size="25.5" transform="translate(0,24) scale(1.0,1)" x="49.22" y="0">2</text>
<clipPath id="nofoot1"><path clip-rule="evenodd" d="M45.25,136 H69.25 V164 H45.25 Z M50.19,157.79 H55.40 V161.00 H50.19 Z M58.17,157.79 H63.18 V161.00 H58.17 Z"/></clipPath><g clip-path="url(#nofoot1)"><text class="tk" font-size="25.5" transform="translate(0,160) scale(1.0,1)" x="49.25" y="0">1</text></g>
<text class="tk" font-size="25.5" transform="translate(0,296.8) scale(1.0,1)" x="49.22" y="0">0</text>
<clipPath id="nofoot2"><path clip-rule="evenodd" d="M36.72,409 H69.25 V437 H36.72 Z M50.19,430.79 H55.40 V434.00 H50.19 Z M58.17,430.79 H63.18 V434.00 H58.17 Z"/></clipPath><g clip-path="url(#nofoot2)"><text class="tk" font-size="25.5" transform="translate(0,433) scale(1.0,1)" x="40.72 49.25" y="0.9 0">-1</text></g>
<text class="tk" font-size="25.5" transform="translate(0,570) scale(1.0,1)" x="40.82 49.12" y="0.9 0">-2</text>
<text class="tk" font-size="25.5" transform="translate(0,595) scale(1.0,1)" x="47.52 62.27 77.02" y="0 0 0">230</text>
<text class="tk" font-size="25.5" transform="translate(0,595) scale(1.0,1)" x="142.52 157.27 172.02" y="0 0 0">240</text>
<text class="tk" font-size="25.5" transform="translate(0,595) scale(1.0,1)" x="238.52 253.27 268.02" y="0 0 0">250</text>
<text class="tk" font-size="25.5" transform="translate(0,595) scale(1.0,1)" x="333.52 348.27 363.02" y="0 0 0">260</text>
<text class="tk" font-size="25.5" transform="translate(0,595) scale(1.0,1)" x="429.52 444.27 459.02" y="0 0 0">270</text>
<text class="tk" font-size="25.5" transform="translate(0,595) scale(1.0,1)" x="525.52 540.27 555.02" y="0 0 0">280</text>
<text class="tk" font-size="25.5" transform="translate(0,595) scale(1.0,1)" x="620.52 635.27 650.02" y="0 0 0">290</text>
<text class="tk" font-size="25.5" transform="translate(0,595) scale(1.0,1)" x="716.67 731.42 746.17" y="0 0 0">300</text>
<clipPath id="nofoot3"><path clip-rule="evenodd" d="M807.67,571 H861.17 V599 H807.67 Z M827.59,592.79 H832.80 V596.00 H827.59 Z M835.57,592.79 H840.58 V596.00 H835.57 Z"/></clipPath><g clip-path="url(#nofoot3)"><text class="tk" font-size="25.5" transform="translate(0,595) scale(1.0,1)" x="811.67 826.65 841.17" y="0 0 0">310</text></g>
<text class="tk" font-size="25.5" transform="translate(0,595) scale(1.0,1)" x="907.67 922.42 937.17" y="0 0 0">320</text>
<text class="lb" font-size="28.0" transform="translate(0,630) scale(0.93,1)" x="416.36 444.78 463.78 479.08 497.15 505.69 523.76 541.22 559.64 569.19" y="0">Wavelength</text>
<text class="lb" font-size="28.0" transform="translate(0,630) scale(0.99,1)" x="559.87 568.01 585.68 609.64" y="0">[nm]</text>
<text class="lb" font-size="28.0" transform="translate(27.1,400.0) rotate(-90) scale(0.975,1)" x="50.83 71.13 89.70 99.29 124.46 140.81 156.84 172.98" y="0">CD[mdeg]</text>
</svg></body></html>
